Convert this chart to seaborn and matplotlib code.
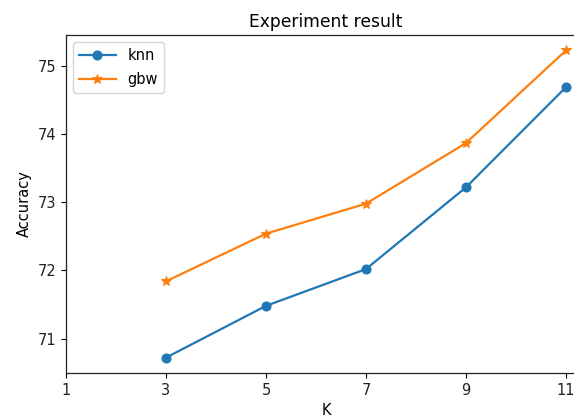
import matplotlib
matplotlib.use("Agg")
import matplotlib.pyplot as plt
import seaborn as sns

K = [3, 5, 7, 9, 11]
knn = [70.72, 71.48, 72.02, 73.22, 74.69]
gbw = [71.84, 72.54, 72.98, 73.87, 75.23]
xticks = [1, 3, 5, 7, 9, 11]

plt.rcParams['font.family'] = ['DejaVu Sans']
fig = plt.figure(figsize=(5.74, 4.18), dpi=100)
W, H = 574, 418
left, right, top, bottom = 66, 586, 35, 373
ax = fig.add_axes([left / W, 1 - bottom / H, (right - left) / W, (bottom - top) / H])

c1, c2 = '#1f77b4', '#ff7f0e'
sns.lineplot(x=K, y=knn, marker='o', color=c1, label='knn', ax=ax,
             markersize=6.5, markeredgecolor=c1, linewidth=1.6)
sns.lineplot(x=K, y=gbw, marker='*', color=c2, label='gbw', ax=ax,
             markersize=7.5, markeredgecolor=c2, linewidth=1.6)

ax.set_xticks(xticks)
ax.set_xlim(1, 11.4)
ax.set_title('Experiment result', fontsize=12.3, pad=6)
ax.set_xlabel('K', fontsize=10.5)
ax.set_ylabel('Accuracy', fontsize=10.5)
ax.tick_params(labelsize=10.5, labelcolor='#222222')
ax.legend(loc='upper left', fontsize=10.5, handlelength=2.5, labelspacing=0.6)
for s in ax.spines.values():
    s.set_color('#222222')
    s.set_linewidth(0.9)

fig.savefig('out.png', dpi=100)
